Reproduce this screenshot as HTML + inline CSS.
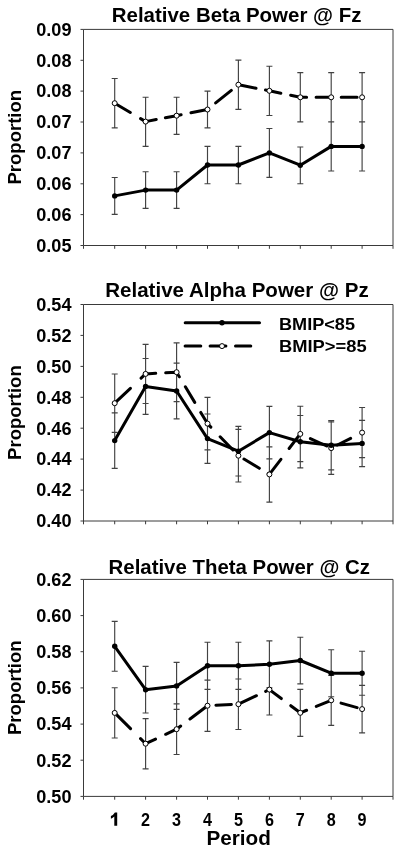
<!DOCTYPE html><html><head><meta charset="utf-8"><style>html,body{margin:0;padding:0;background:#fff;width:401px;height:853px;overflow:hidden}svg{display:block;filter:grayscale(1)}text{font-family:"Liberation Sans", sans-serif;font-weight:bold;fill:#000}</style></head><body>
<svg width="401" height="853" viewBox="0 0 401 853">
<rect width="401" height="853" fill="#fff"/>
<text x="111.75" y="22.0" font-size="20.75" textLength="249.7" lengthAdjust="spacingAndGlyphs">Relative Beta Power @ Fz</text>
<text transform="translate(20.6,137.2) rotate(-90)" text-anchor="middle" font-size="18.55">Proportion</text>
<text x="71.5" y="35.7" text-anchor="end" font-size="19.1" textLength="35.3" lengthAdjust="spacingAndGlyphs">0.09</text>
<text x="71.5" y="66.6" text-anchor="end" font-size="19.1" textLength="35.3" lengthAdjust="spacingAndGlyphs">0.08</text>
<text x="71.5" y="97.4" text-anchor="end" font-size="19.1" textLength="35.3" lengthAdjust="spacingAndGlyphs">0.08</text>
<text x="71.5" y="128.3" text-anchor="end" font-size="19.1" textLength="35.3" lengthAdjust="spacingAndGlyphs">0.07</text>
<text x="71.5" y="159.2" text-anchor="end" font-size="19.1" textLength="35.3" lengthAdjust="spacingAndGlyphs">0.07</text>
<text x="71.5" y="190.1" text-anchor="end" font-size="19.1" textLength="35.3" lengthAdjust="spacingAndGlyphs">0.06</text>
<text x="71.5" y="220.9" text-anchor="end" font-size="19.1" textLength="35.3" lengthAdjust="spacingAndGlyphs">0.06</text>
<text x="71.5" y="251.8" text-anchor="end" font-size="19.1" textLength="35.3" lengthAdjust="spacingAndGlyphs">0.05</text>
<path d="M83.5,29.4 H393.0 V245.5 H83.5 Z M80.5,29.4 H83.5 M80.5,60.3 H83.5 M80.5,91.1 H83.5 M80.5,122.0 H83.5 M80.5,152.9 H83.5 M80.5,183.8 H83.5 M80.5,214.6 H83.5 M80.5,245.5 H83.5 M83.5,245.5 v3.3 M114.7,245.5 v3.3 M145.6,245.5 v3.3 M176.6,245.5 v3.3 M207.5,245.5 v3.3 M238.4,245.5 v3.3 M269.4,245.5 v3.3 M300.3,245.5 v3.3 M331.2,245.5 v3.3 M362.1,245.5 v3.3 M393.0,245.5 v3.3" fill="none" stroke="#3a3a3a" stroke-width="1"/>
<path d="M114.7,78.5 V127.9 M111.7,78.5 h6.0 M111.7,127.9 h6.0 M145.6,97.2 V146.3 M142.6,97.2 h6.0 M142.6,146.3 h6.0 M176.6,97.2 V134.3 M173.6,97.2 h6.0 M173.6,134.3 h6.0 M207.5,91.1 V127.9 M204.5,91.1 h6.0 M204.5,127.9 h6.0 M238.4,60.1 V109.4 M235.4,60.1 h6.0 M235.4,109.4 h6.0 M269.4,66.2 V115.5 M266.4,66.2 h6.0 M266.4,115.5 h6.0 M300.3,72.6 V121.9 M297.3,72.6 h6.0 M297.3,121.9 h6.0 M331.2,72.6 V121.9 M328.2,72.6 h6.0 M328.2,121.9 h6.0 M362.1,72.6 V121.9 M359.1,72.6 h6.0 M359.1,121.9 h6.0 M114.7,177.5 V214.4 M111.7,177.5 h6.0 M111.7,214.4 h6.0 M145.6,171.7 V208.3 M142.6,171.7 h6.0 M142.6,208.3 h6.0 M176.6,171.7 V208.3 M173.6,171.7 h6.0 M173.6,208.3 h6.0 M207.5,146.4 V183.7 M204.5,146.4 h6.0 M204.5,183.7 h6.0 M238.4,146.4 V183.7 M235.4,146.4 h6.0 M235.4,183.7 h6.0 M269.4,128.5 V177.4 M266.4,128.5 h6.0 M266.4,177.4 h6.0 M300.3,147.0 V183.7 M297.3,147.0 h6.0 M297.3,183.7 h6.0 M331.2,121.7 V171.0 M328.2,121.7 h6.0 M328.2,171.0 h6.0 M362.1,121.7 V171.0 M359.1,121.7 h6.0 M359.1,171.0 h6.0" fill="none" stroke="#424242" stroke-width="1.15"/>
<path d="M114.70,103.20 L130.31,112.49 M140.59,118.60 L145.63,121.60 L156.23,119.58 M165.37,117.83 L176.56,115.70 L181.13,114.78 M190.97,112.81 L207.49,109.50 L208.33,108.83 M215.67,102.94 L231.33,90.39 M238.73,84.76 L256.03,88.17 M265.47,90.04 L269.35,90.80 L280.83,93.21 M290.67,95.28 L300.28,97.30 L306.60,97.30 M316.10,97.30 L331.21,97.30 L331.50,97.30 M341.20,97.30 L357.10,97.30" fill="none" stroke="#000" stroke-width="3.0" stroke-linejoin="round" stroke-linecap="round"/>
<polyline points="114.7,195.9 145.6,190.1 176.6,190.1 207.5,165.0 238.4,165.0 269.4,152.9 300.3,165.2 331.2,146.4 362.1,146.4" fill="none" stroke="#000" stroke-width="3.0" stroke-linejoin="round"/>
<circle cx="114.7" cy="103.2" r="2.5" fill="#fff" stroke="#000" stroke-width="1"/>
<circle cx="145.6" cy="121.6" r="2.5" fill="#fff" stroke="#000" stroke-width="1"/>
<circle cx="176.6" cy="115.7" r="2.5" fill="#fff" stroke="#000" stroke-width="1"/>
<circle cx="207.5" cy="109.5" r="2.5" fill="#fff" stroke="#000" stroke-width="1"/>
<circle cx="238.4" cy="84.7" r="2.5" fill="#fff" stroke="#000" stroke-width="1"/>
<circle cx="269.4" cy="90.8" r="2.5" fill="#fff" stroke="#000" stroke-width="1"/>
<circle cx="300.3" cy="97.3" r="2.5" fill="#fff" stroke="#000" stroke-width="1"/>
<circle cx="331.2" cy="97.3" r="2.5" fill="#fff" stroke="#000" stroke-width="1"/>
<circle cx="362.1" cy="97.3" r="2.5" fill="#fff" stroke="#000" stroke-width="1"/>
<circle cx="114.7" cy="195.9" r="2.7" fill="#000"/>
<circle cx="145.6" cy="190.1" r="2.7" fill="#000"/>
<circle cx="176.6" cy="190.1" r="2.7" fill="#000"/>
<circle cx="207.5" cy="165.0" r="2.7" fill="#000"/>
<circle cx="238.4" cy="165.0" r="2.7" fill="#000"/>
<circle cx="269.4" cy="152.9" r="2.7" fill="#000"/>
<circle cx="300.3" cy="165.2" r="2.7" fill="#000"/>
<circle cx="331.2" cy="146.4" r="2.7" fill="#000"/>
<circle cx="362.1" cy="146.4" r="2.7" fill="#000"/>
<text x="105.25" y="297.0" font-size="20.75" textLength="263.4" lengthAdjust="spacingAndGlyphs">Relative Alpha Power @ Pz</text>
<text transform="translate(20.6,412.6) rotate(-90)" text-anchor="middle" font-size="18.55">Proportion</text>
<text x="71.5" y="310.8" text-anchor="end" font-size="19.1" textLength="35.3" lengthAdjust="spacingAndGlyphs">0.54</text>
<text x="71.5" y="341.7" text-anchor="end" font-size="19.1" textLength="35.3" lengthAdjust="spacingAndGlyphs">0.52</text>
<text x="71.5" y="372.7" text-anchor="end" font-size="19.1" textLength="35.3" lengthAdjust="spacingAndGlyphs">0.50</text>
<text x="71.5" y="403.6" text-anchor="end" font-size="19.1" textLength="35.3" lengthAdjust="spacingAndGlyphs">0.48</text>
<text x="71.5" y="434.5" text-anchor="end" font-size="19.1" textLength="35.3" lengthAdjust="spacingAndGlyphs">0.46</text>
<text x="71.5" y="465.4" text-anchor="end" font-size="19.1" textLength="35.3" lengthAdjust="spacingAndGlyphs">0.44</text>
<text x="71.5" y="496.4" text-anchor="end" font-size="19.1" textLength="35.3" lengthAdjust="spacingAndGlyphs">0.42</text>
<text x="71.5" y="527.3" text-anchor="end" font-size="19.1" textLength="35.3" lengthAdjust="spacingAndGlyphs">0.40</text>
<path d="M83.5,304.5 H393.0 V521.0 H83.5 Z M80.5,304.5 H83.5 M80.5,335.4 H83.5 M80.5,366.4 H83.5 M80.5,397.3 H83.5 M80.5,428.2 H83.5 M80.5,459.1 H83.5 M80.5,490.1 H83.5 M80.5,521.0 H83.5 M83.5,521.0 v3.3 M114.7,521.0 v3.3 M145.6,521.0 v3.3 M176.6,521.0 v3.3 M207.5,521.0 v3.3 M238.4,521.0 v3.3 M269.4,521.0 v3.3 M300.3,521.0 v3.3 M331.2,521.0 v3.3 M362.1,521.0 v3.3 M393.0,521.0 v3.3" fill="none" stroke="#3a3a3a" stroke-width="1"/>
<path d="M114.7,374.0 V432.3 M111.7,374.0 h6.0 M111.7,432.3 h6.0 M145.6,344.4 V403.5 M142.6,344.4 h6.0 M142.6,403.5 h6.0 M176.6,342.8 V401.6 M173.6,342.8 h6.0 M173.6,401.6 h6.0 M207.5,397.4 V449.9 M204.5,397.4 h6.0 M204.5,449.9 h6.0 M238.4,429.3 V482.0 M235.4,429.3 h6.0 M235.4,482.0 h6.0 M269.4,446.8 V502.1 M266.4,446.8 h6.0 M266.4,502.1 h6.0 M300.3,406.2 V461.6 M297.3,406.2 h6.0 M297.3,461.6 h6.0 M331.2,421.9 V474.3 M328.2,421.9 h6.0 M328.2,474.3 h6.0 M362.1,407.5 V457.6 M359.1,407.5 h6.0 M359.1,457.6 h6.0 M114.7,412.8 V468.4 M111.7,412.8 h6.0 M111.7,468.4 h6.0 M145.6,358.5 V414.3 M142.6,358.5 h6.0 M142.6,414.3 h6.0 M176.6,363.1 V418.8 M173.6,363.1 h6.0 M173.6,418.8 h6.0 M207.5,414.0 V463.3 M204.5,414.0 h6.0 M204.5,463.3 h6.0 M238.4,426.4 V476.0 M235.4,426.4 h6.0 M235.4,476.0 h6.0 M269.4,406.4 V458.9 M266.4,406.4 h6.0 M266.4,458.9 h6.0 M300.3,415.5 V467.8 M297.3,415.5 h6.0 M297.3,467.8 h6.0 M331.2,420.5 V469.9 M328.2,420.5 h6.0 M328.2,469.9 h6.0 M362.1,420.3 V466.6 M359.1,420.3 h6.0 M359.1,466.6 h6.0" fill="none" stroke="#424242" stroke-width="1.15"/>
<path d="M114.70,403.20 L130.41,388.32 M141.09,378.20 L145.63,373.90 L155.70,373.35 M165.70,372.80 L176.56,372.20 L179.33,376.80 M185.37,386.85 L194.73,402.39 M200.77,412.44 L207.49,423.60 L210.86,427.10 M220.14,436.73 L232.96,450.03 M243.98,459.06 L259.32,468.33 M268.28,473.76 L269.35,474.40 L280.89,459.29 M289.11,448.53 L299.52,434.90 M310.36,438.53 L326.64,446.00 M337.34,445.03 L350.66,438.35" fill="none" stroke="#000" stroke-width="3.0" stroke-linejoin="round" stroke-linecap="round"/>
<polyline points="114.7,440.6 145.6,386.4 176.6,391.0 207.5,438.6 238.4,451.2 269.4,432.6 300.3,441.7 331.2,445.2 362.1,443.4" fill="none" stroke="#000" stroke-width="3.0" stroke-linejoin="round"/>
<circle cx="114.7" cy="403.2" r="2.5" fill="#fff" stroke="#000" stroke-width="1"/>
<circle cx="145.6" cy="373.9" r="2.5" fill="#fff" stroke="#000" stroke-width="1"/>
<circle cx="176.6" cy="372.2" r="2.5" fill="#fff" stroke="#000" stroke-width="1"/>
<circle cx="207.5" cy="423.6" r="2.5" fill="#fff" stroke="#000" stroke-width="1"/>
<circle cx="238.4" cy="455.7" r="2.5" fill="#fff" stroke="#000" stroke-width="1"/>
<circle cx="269.4" cy="474.4" r="2.5" fill="#fff" stroke="#000" stroke-width="1"/>
<circle cx="300.3" cy="433.9" r="2.5" fill="#fff" stroke="#000" stroke-width="1"/>
<circle cx="331.2" cy="448.1" r="2.5" fill="#fff" stroke="#000" stroke-width="1"/>
<circle cx="362.1" cy="432.6" r="2.5" fill="#fff" stroke="#000" stroke-width="1"/>
<circle cx="114.7" cy="440.6" r="2.7" fill="#000"/>
<circle cx="145.6" cy="386.4" r="2.7" fill="#000"/>
<circle cx="176.6" cy="391.0" r="2.7" fill="#000"/>
<circle cx="207.5" cy="438.6" r="2.7" fill="#000"/>
<circle cx="238.4" cy="451.2" r="2.7" fill="#000"/>
<circle cx="269.4" cy="432.6" r="2.7" fill="#000"/>
<circle cx="300.3" cy="441.7" r="2.7" fill="#000"/>
<circle cx="331.2" cy="445.2" r="2.7" fill="#000"/>
<circle cx="362.1" cy="443.4" r="2.7" fill="#000"/>
<text x="108.55" y="573.8" font-size="20.75" textLength="261.4" lengthAdjust="spacingAndGlyphs">Relative Theta Power @ Cz</text>
<text transform="translate(20.6,687.7) rotate(-90)" text-anchor="middle" font-size="18.55">Proportion</text>
<text x="71.5" y="585.7" text-anchor="end" font-size="19.1" textLength="35.3" lengthAdjust="spacingAndGlyphs">0.62</text>
<text x="71.5" y="621.9" text-anchor="end" font-size="19.1" textLength="35.3" lengthAdjust="spacingAndGlyphs">0.60</text>
<text x="71.5" y="658.0" text-anchor="end" font-size="19.1" textLength="35.3" lengthAdjust="spacingAndGlyphs">0.58</text>
<text x="71.5" y="694.2" text-anchor="end" font-size="19.1" textLength="35.3" lengthAdjust="spacingAndGlyphs">0.56</text>
<text x="71.5" y="730.4" text-anchor="end" font-size="19.1" textLength="35.3" lengthAdjust="spacingAndGlyphs">0.54</text>
<text x="71.5" y="766.5" text-anchor="end" font-size="19.1" textLength="35.3" lengthAdjust="spacingAndGlyphs">0.52</text>
<text x="71.5" y="802.7" text-anchor="end" font-size="19.1" textLength="35.3" lengthAdjust="spacingAndGlyphs">0.50</text>
<path d="M83.5,579.4 H393.0 V796.4 H83.5 Z M80.5,579.4 H83.5 M80.5,615.6 H83.5 M80.5,651.7 H83.5 M80.5,687.9 H83.5 M80.5,724.1 H83.5 M80.5,760.2 H83.5 M80.5,796.4 H83.5 M83.5,796.4 v3.3 M114.7,796.4 v3.3 M145.6,796.4 v3.3 M176.6,796.4 v3.3 M207.5,796.4 v3.3 M238.4,796.4 v3.3 M269.4,796.4 v3.3 M300.3,796.4 v3.3 M331.2,796.4 v3.3 M362.1,796.4 v3.3 M393.0,796.4 v3.3" fill="none" stroke="#3a3a3a" stroke-width="1"/>
<path d="M114.7,687.7 V738.0 M111.7,687.7 h6.0 M111.7,738.0 h6.0 M145.6,718.6 V768.9 M142.6,718.6 h6.0 M142.6,768.9 h6.0 M176.6,703.9 V754.5 M173.6,703.9 h6.0 M173.6,754.5 h6.0 M207.5,680.1 V731.3 M204.5,680.1 h6.0 M204.5,731.3 h6.0 M238.4,679.0 V729.5 M235.4,679.0 h6.0 M235.4,729.5 h6.0 M269.4,664.2 V715.0 M266.4,664.2 h6.0 M266.4,715.0 h6.0 M300.3,689.4 V736.3 M297.3,689.4 h6.0 M297.3,736.3 h6.0 M331.2,675.3 V725.3 M328.2,675.3 h6.0 M328.2,725.3 h6.0 M362.1,685.4 V732.8 M359.1,685.4 h6.0 M359.1,732.8 h6.0 M114.7,621.4 V671.2 M111.7,621.4 h6.0 M111.7,671.2 h6.0 M145.6,666.4 V713.0 M142.6,666.4 h6.0 M142.6,713.0 h6.0 M176.6,662.4 V709.4 M173.6,662.4 h6.0 M173.6,709.4 h6.0 M207.5,642.2 V689.3 M204.5,642.2 h6.0 M204.5,689.3 h6.0 M238.4,642.2 V689.3 M235.4,642.2 h6.0 M235.4,689.3 h6.0 M269.4,640.9 V687.8 M266.4,640.9 h6.0 M266.4,687.8 h6.0 M300.3,637.2 V683.9 M297.3,637.2 h6.0 M297.3,683.9 h6.0 M331.2,649.7 V696.7 M328.2,649.7 h6.0 M328.2,696.7 h6.0 M362.1,651.2 V695.2 M359.1,651.2 h6.0 M359.1,695.2 h6.0" fill="none" stroke="#424242" stroke-width="1.15"/>
<path d="M114.70,712.90 L130.54,728.67 M140.56,738.65 L145.63,743.70 L155.54,739.05 M165.66,734.31 L176.56,729.20 L180.71,726.05 M189.99,718.99 L207.49,705.70 L208.00,705.68 M215.90,705.29 L231.40,704.54 M238.94,703.95 L256.44,695.69 M265.66,691.34 L269.35,689.60 L281.30,698.56 M290.80,705.69 L300.28,712.80 L306.61,710.24 M316.29,706.33 L331.21,700.30 L331.56,700.40 M341.04,703.10 L357.16,707.68" fill="none" stroke="#000" stroke-width="3.0" stroke-linejoin="round" stroke-linecap="round"/>
<polyline points="114.7,646.3 145.6,689.7 176.6,685.9 207.5,665.8 238.4,665.8 269.4,664.3 300.3,660.5 331.2,673.2 362.1,673.2" fill="none" stroke="#000" stroke-width="3.0" stroke-linejoin="round"/>
<circle cx="114.7" cy="712.9" r="2.5" fill="#fff" stroke="#000" stroke-width="1"/>
<circle cx="145.6" cy="743.7" r="2.5" fill="#fff" stroke="#000" stroke-width="1"/>
<circle cx="176.6" cy="729.2" r="2.5" fill="#fff" stroke="#000" stroke-width="1"/>
<circle cx="207.5" cy="705.7" r="2.5" fill="#fff" stroke="#000" stroke-width="1"/>
<circle cx="238.4" cy="704.2" r="2.5" fill="#fff" stroke="#000" stroke-width="1"/>
<circle cx="269.4" cy="689.6" r="2.5" fill="#fff" stroke="#000" stroke-width="1"/>
<circle cx="300.3" cy="712.8" r="2.5" fill="#fff" stroke="#000" stroke-width="1"/>
<circle cx="331.2" cy="700.3" r="2.5" fill="#fff" stroke="#000" stroke-width="1"/>
<circle cx="362.1" cy="709.1" r="2.5" fill="#fff" stroke="#000" stroke-width="1"/>
<circle cx="114.7" cy="646.3" r="2.7" fill="#000"/>
<circle cx="145.6" cy="689.7" r="2.7" fill="#000"/>
<circle cx="176.6" cy="685.9" r="2.7" fill="#000"/>
<circle cx="207.5" cy="665.8" r="2.7" fill="#000"/>
<circle cx="238.4" cy="665.8" r="2.7" fill="#000"/>
<circle cx="269.4" cy="664.3" r="2.7" fill="#000"/>
<circle cx="300.3" cy="660.5" r="2.7" fill="#000"/>
<circle cx="331.2" cy="673.2" r="2.7" fill="#000"/>
<circle cx="362.1" cy="673.2" r="2.7" fill="#000"/>
<path d="M185.2,322.8 H259.5" stroke="#000" stroke-width="3.0" stroke-linecap="round"/>
<circle cx="222" cy="322.8" r="2.7" fill="#000"/>
<path d="M185.1,346.1 H200.8 M210.1,346.1 H225.9 M235.5,346.1 H250.8" stroke="#000" stroke-width="3.0" stroke-linecap="round"/>
<circle cx="222" cy="346.1" r="2.5" fill="#fff" stroke="#000" stroke-width="1"/>
<text x="279" y="329.6" font-size="17" textLength="76.0" lengthAdjust="spacingAndGlyphs">BMIP&lt;85</text>
<text x="279" y="351.9" font-size="17" textLength="87.6" lengthAdjust="spacingAndGlyphs">BMIP&gt;=85</text>
<path d="M117.2,812.6 V825.7 H114.3 V816.6 Q112.9,817.9 110.9,818.7 V816.1 Q113.6,814.9 114.9,812.6 Z" fill="#000"/>
<text x="145.6" y="825.5" text-anchor="middle" font-size="18.3" textLength="9.0" lengthAdjust="spacingAndGlyphs">2</text>
<text x="176.6" y="825.5" text-anchor="middle" font-size="18.3" textLength="9.0" lengthAdjust="spacingAndGlyphs">3</text>
<text x="207.5" y="825.5" text-anchor="middle" font-size="18.3" textLength="9.0" lengthAdjust="spacingAndGlyphs">4</text>
<text x="238.4" y="825.5" text-anchor="middle" font-size="18.3" textLength="9.0" lengthAdjust="spacingAndGlyphs">5</text>
<text x="269.4" y="825.5" text-anchor="middle" font-size="18.3" textLength="9.0" lengthAdjust="spacingAndGlyphs">6</text>
<text x="300.3" y="825.5" text-anchor="middle" font-size="18.3" textLength="9.0" lengthAdjust="spacingAndGlyphs">7</text>
<text x="331.2" y="825.5" text-anchor="middle" font-size="18.3" textLength="9.0" lengthAdjust="spacingAndGlyphs">8</text>
<text x="362.1" y="825.5" text-anchor="middle" font-size="18.3" textLength="9.0" lengthAdjust="spacingAndGlyphs">9</text>
<text x="206.5" y="844.8" font-size="20.4" textLength="64.4" lengthAdjust="spacingAndGlyphs">Period</text>
</svg></body></html>
